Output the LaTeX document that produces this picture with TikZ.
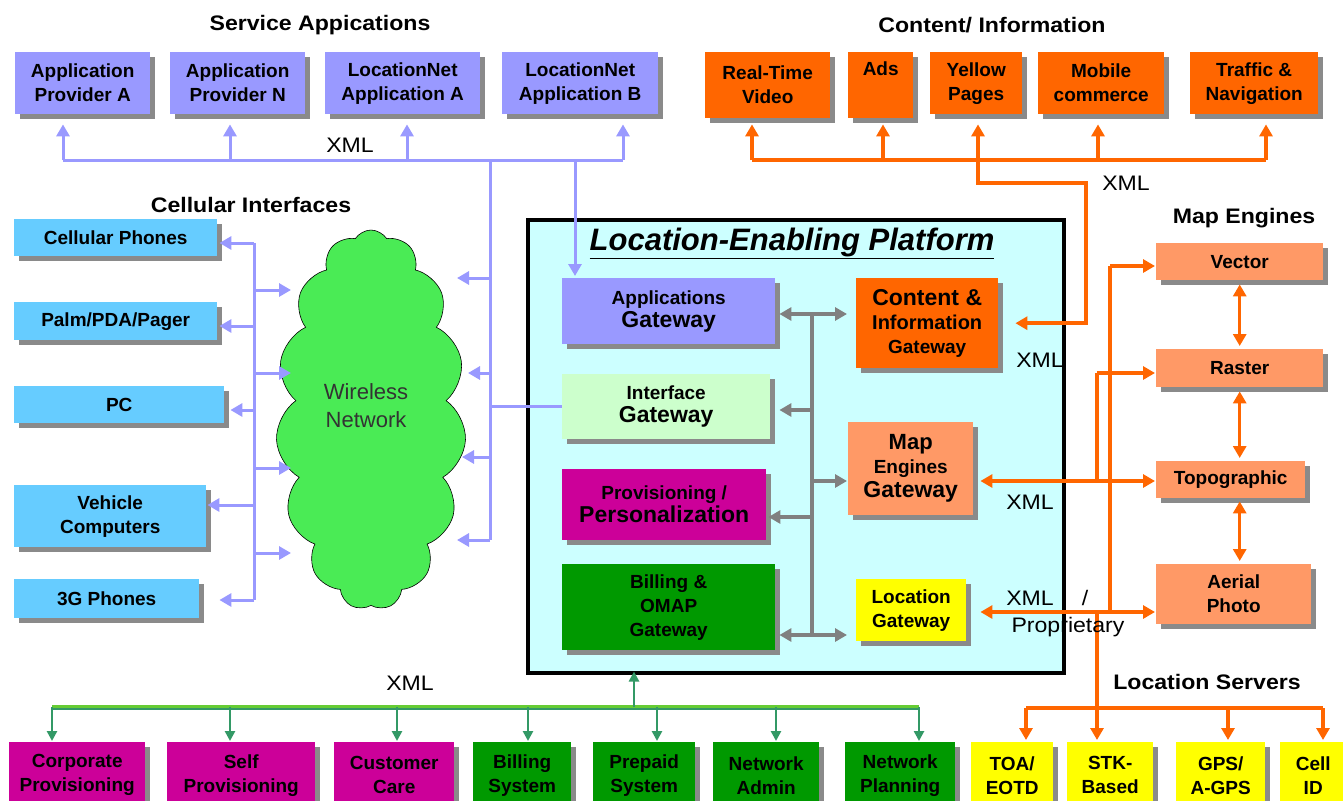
\documentclass[tikz,border=0pt]{standalone}
\usepackage{fontspec}
\setmainfont{Liberation Sans}
\newfontfamily\widefont[FakeStretch=1.1]{Liberation Sans}
\usetikzlibrary{arrows.meta,shapes.symbols,shadows,calc}
\definecolor{lav}{HTML}{9999FF}
\definecolor{skyb}{HTML}{66CCFF}
\definecolor{orng}{HTML}{FF6600}
\definecolor{lorng}{HTML}{FF9966}
\definecolor{yel}{HTML}{FFFF00}
\definecolor{mag}{HTML}{CC0099}
\definecolor{grn}{HTML}{009900}
\definecolor{ifc}{HTML}{CCFFCC}
\definecolor{platc}{HTML}{CCFFFF}
\definecolor{cloudg}{HTML}{4AEB55}
\definecolor{shad}{HTML}{8A8A8A}
\definecolor{gline}{HTML}{808080}
\definecolor{busg}{HTML}{339966}
\definecolor{busl}{HTML}{66CC33}
\begin{document}
\begin{tikzpicture}[x=1pt,y=-1pt,
 box/.style={inner sep=0pt, anchor=north west, align=center, text=black,
   font=\bfseries\fontsize{19}{24}\selectfont,
   general shadow={fill=shad, shadow xshift=5pt, shadow yshift=-5pt}},
 ttl/.style={font=\widefont\bfseries\fontsize{21}{25}\selectfont, inner sep=0pt},
 lbl/.style={font=\widefont\fontsize{21}{25}\selectfont, inner sep=0pt},
 arrowto/.style={-{Triangle[length=12pt,width=13pt]}},
 arrowboth/.style={{Triangle[length=12pt,width=13pt]}-{Triangle[length=12pt,width=13pt]}},
 garrow/.style={-{Triangle[length=10pt,width=10pt]}},
 lavl/.style={draw=lav, line width=3pt},
 orl/.style={draw=orng, line width=3.5pt},
 grl/.style={draw=gline, line width=3.5pt},
 gnl/.style={draw=busg, line width=2.5pt},
]
\clip (0,0) rectangle (1343,800);
\useasboundingbox (0,0) rectangle (1343,800);
\fill[white] (0,0) rectangle (1343,800);

% ---------- titles
\node[ttl] (t1) at (320,25) {Service Appications};
\node[ttl] (t2) at (992,25) {Content/ Information};
\node[ttl] (t3) at (251,205) {Cellular Interfaces};
\node[ttl] (t4) at (1244,218) {Map Engines};
\node[ttl] (t5) at (1207,682) {Location Servers};

% ---------- service applications
\node[box, fill=lav, minimum width=135pt, minimum height=62pt] (apA) at (15,52) {Application\\Provider A};
\node[box, fill=lav, minimum width=135pt, minimum height=62pt] (apN) at (170,52) {Application\\Provider N};
\node[box, fill=lav, minimum width=155pt, minimum height=62pt] (lnA) at (325,52) {LocationNet\\Application A};
\node[box, fill=lav, minimum width=156pt, minimum height=62pt] (lnB) at (502,52) {LocationNet\\Application B};

% ---------- content
\node[box, fill=orng, minimum width=125pt, minimum height=66pt] (rtv) at (705,52) {Real-Time\\Video};
\node[box, fill=orng, minimum width=65pt, minimum height=66pt] (ads) at (848,52) {Ads\\[2pt]\strut};
\node[box, fill=orng, minimum width=92pt, minimum height=62pt] (yp) at (930,52) {Yellow\\Pages};
\node[box, fill=orng, minimum width=126pt, minimum height=62pt] (mc) at (1038,52) {Mobile\\commerce};
\node[box, fill=orng, minimum width=128pt, minimum height=62pt] (tn) at (1190,52) {Traffic \&\\Navigation};

% ---------- cellular interfaces
\node[box, fill=skyb, minimum width=203pt, minimum height=37pt] (cell) at (14,219) {Cellular Phones};
\node[box, fill=skyb, minimum width=203pt, minimum height=38pt] (palm) at (14,302) {Palm/PDA/Pager};
\node[box, fill=skyb, minimum width=210pt, minimum height=37pt] (pc) at (14,386) {PC};
\node[box, fill=skyb, minimum width=192pt, minimum height=62pt] (veh) at (14,485) {Vehicle\\Computers};
\node[box, fill=skyb, minimum width=185pt, minimum height=39pt] (g3) at (14,579) {3G Phones};

% ---------- cloud
\node[cloud, cloud puffs=15, cloud puff arc=115, cloud ignores aspect, draw=black, line width=0.6pt,
  fill=cloudg, minimum width=190pt, minimum height=380pt, inner sep=0pt] (cloud) at (371,420) {};
\node[align=center, text=black!80, font=\fontsize{22}{28}\selectfont, inner sep=0pt] (wn) at (366,406) {Wireless\\Network};

% ---------- platform
\node[draw=black, line width=3.5pt, fill=platc, minimum width=536pt, minimum height=453pt,
  anchor=north west, inner sep=0pt] (plat) at (526,218) {};
\node[font=\bfseries\itshape\fontsize{31}{36}\selectfont, inner sep=0pt] (ptitle) at (792,243) {\underline{Location-Enabling Platform}};

\node[box, fill=lav, minimum width=213pt, minimum height=66pt] (appgw) at (562,278)
  {Applications\\[-1pt]{\fontsize{23}{27}\selectfont Gateway}};
\node[box, fill=ifc, minimum width=208pt, minimum height=65pt] (ifgw) at (562,374)
  {Interface\\[-1pt]{\fontsize{23}{27}\selectfont Gateway}};
\node[box, fill=mag, minimum width=204pt, minimum height=71pt] (provgw) at (562,469)
  {Provisioning /\\[-1pt]{\fontsize{23}{27}\selectfont Personalization}};
\node[box, fill=grn, minimum width=213pt, minimum height=86pt] (billgw) at (562,564)
  {Billing \&\\OMAP\\Gateway};
\node[box, fill=orng, minimum width=142pt, minimum height=90pt] (contgw) at (856,278)
  {{\fontsize{23}{26}\selectfont Content \&}\\{\fontsize{20}{25}\selectfont Information}\\Gateway};
\node[box, fill=lorng, minimum width=125pt, minimum height=93pt] (mapgw) at (848,422)
  {{\fontsize{22}{26}\selectfont Map}\\Engines\\{\fontsize{23}{26}\selectfont Gateway}};
\node[box, fill=yel, minimum width=110pt, minimum height=62pt] (locgw) at (856,579) {Location\\Gateway};

% ---------- map engines
\node[box, fill=lorng, minimum width=167pt, minimum height=37pt] (vec) at (1156,243) {Vector};
\node[box, fill=lorng, minimum width=167pt, minimum height=38pt] (ras) at (1156,349) {Raster};
\node[box, fill=lorng, minimum width=149pt, minimum height=37pt] (topo) at (1156,461) {Topographic};
\node[box, fill=lorng, minimum width=155pt, minimum height=60pt] (aer) at (1156,564) {Aerial\\Photo};

% ---------- location servers
\node[box, fill=yel, minimum width=82pt, minimum height=66pt] (toa) at (971,742) {TOA/\\EOTD};
\node[box, fill=yel, minimum width=86pt, minimum height=66pt] (stk) at (1067,742) {STK-\\Based};
\node[box, fill=yel, minimum width=89pt, minimum height=66pt] (gps) at (1176,742) {GPS/\\A-GPS};
\node[box, fill=yel, minimum width=66pt, minimum height=66pt] (cid) at (1280,742) {Cell\\ID};

% ---------- bottom row
\node[box, fill=mag, minimum width=136pt, minimum height=66pt] (corp) at (9,742) {Corporate\\Provisioning};
\node[box, fill=mag, minimum width=148pt, minimum height=66pt] (self) at (167,742) {Self\\Provisioning};
\node[box, fill=mag, minimum width=120pt, minimum height=66pt] (cust) at (334,742) {Customer\\Care};
\node[box, fill=grn, minimum width=98pt, minimum height=66pt] (bills) at (473,742) {Billing\\System};
\node[box, fill=grn, minimum width=102pt, minimum height=66pt] (prep) at (593,742) {Prepaid\\System};
\node[box, fill=grn, minimum width=106pt, minimum height=66pt] (nadm) at (713,742) {Network\\Admin};
\node[box, fill=grn, minimum width=110pt, minimum height=66pt] (nplan) at (845,742) {Network\\Planning};

% ---------- lavender connectors (service apps)
\coordinate (sb1) at (63,160); \coordinate (sb2) at (230,160);
\coordinate (sb3) at (407,160); \coordinate (sb4) at (623,160);
\coordinate (sbx) at (490,160); \coordinate (sby) at (575,160);
\draw[lavl] (sb1) -- (sb4);
\foreach \c/\n in {sb1/apA, sb2/apN, sb3/lnA, sb4/lnB}
  \draw[lavl, arrowto, shorten >=10pt] (\c) -- (\c |- \n.south);
\draw[lavl, arrowto, shorten >=2pt] (sby) -- (sby |- appgw.north);
\coordinate (rcb) at (490,540);
\draw[lavl] (sbx) -- (rcb);
\coordinate (rc1) at (490,278); \coordinate (rc2) at (490,373); \coordinate (rc3) at (490,457);
\coordinate (ct1) at (457,278); \coordinate (ct2) at (468,373); \coordinate (ct3) at (462,457); \coordinate (ct4) at (457,540);
\draw[lavl, arrowto] (rc1) -- (ct1);
\draw[lavl, arrowto] (rc2) -- (ct2);
\draw[lavl, arrowto] (rc3) -- (ct3);
\draw[lavl, arrowto] (rcb) -- (ct4);
\draw[lavl] (sbx |- ifgw.west) -- (ifgw.west);

% ---------- lavender connectors (cellular)
\coordinate (lb1) at (254,243); \coordinate (lb2) at (254,326); \coordinate (lb3) at (254,410);
\coordinate (lb4) at (254,505); \coordinate (lb5) at (254,600);
\draw[lavl] (lb1) -- (lb5);
\draw[lavl, arrowto, shorten >=2pt] (lb1) -- (lb1 -| cell.east);
\draw[lavl, arrowto, shorten >=2pt] (lb2) -- (lb2 -| palm.east);
\draw[lavl, arrowto, shorten >=6pt] (lb3) -- (lb3 -| pc.east);
\draw[lavl, arrowto, shorten >=1pt] (lb4) -- (lb4 -| veh.east);
\draw[lavl, arrowto, shorten >=20pt] (lb5) -- (lb5 -| g3.east);
\coordinate (lc1) at (254,290); \coordinate (lc2) at (254,373); \coordinate (lc3) at (254,468); \coordinate (lc4) at (254,553);
\coordinate (cl1) at (291,290); \coordinate (cl2) at (291,373); \coordinate (cl3) at (291,468); \coordinate (cl4) at (291,553);
\draw[lavl, arrowto] (lc1) -- (cl1);
\draw[lavl, arrowto] (lc2) -- (cl2);
\draw[lavl, arrowto] (lc3) -- (cl3);
\draw[lavl, arrowto] (lc4) -- (cl4);

% ---------- gray platform connectors
\coordinate (gb1) at (812,314); \coordinate (gb2) at (812,635);
\coordinate (gb3) at (812,410); \coordinate (gb4) at (812,481); \coordinate (gb5) at (812,517);
\draw[grl] (gb1) -- (gb2);
\draw[grl, arrowboth, shorten <=4pt, shorten >=9pt] (gb1 -| appgw.east) -- (gb1 -| contgw.west);
\draw[grl, arrowto, shorten >=9pt] (gb3) -- (gb3 -| ifgw.east);
\draw[grl, arrowto, shorten >=1pt] (gb4) -- (gb4 -| mapgw.west);
\draw[grl, arrowto, shorten >=2pt] (gb5) -- (gb5 -| provgw.east);
\draw[grl, arrowboth, shorten <=4pt, shorten >=9pt] (gb2 -| billgw.east) -- (gb2 -| locgw.west);

% ---------- orange content connectors
\coordinate (ob1) at (752,160); \coordinate (ob2) at (883,160); \coordinate (ob3) at (978,160);
\coordinate (ob4) at (1098,160); \coordinate (ob5) at (1266,160);
\draw[orl] (ob1) -- (ob5);
\draw[orl, arrowto, shorten >=6pt] (ob1) -- (ob1 |- rtv.south);
\draw[orl, arrowto, shorten >=6pt] (ob2) -- (ob2 |- ads.south);
\draw[orl, arrowto, shorten >=10pt] (ob3) -- (ob3 |- yp.south);
\draw[orl, arrowto, shorten >=10pt] (ob4) -- (ob4 |- mc.south);
\draw[orl, arrowto, shorten >=10pt] (ob5) -- (ob5 |- tn.south);
\coordinate (ox) at (1086,183);
\draw[orl, arrowto, shorten >=17pt] (ob3) |- (ox) |- (contgw.east);

% ---------- orange map engine connectors
\coordinate (ma) at (1110,266); \coordinate (mt) at (1110,481); \coordinate (mb) at (1110,612);
\coordinate (mr) at (1097,373); \coordinate (mg) at (1097,481); \coordinate (ml) at (1097,612);
\draw[orl] (ma) -- (mb);
\draw[orl, arrowto, shorten >=1pt] (ma) -- (ma -| vec.west);
\draw[orl, arrowto, shorten >=1pt] (mt) -- (mt -| topo.west);
\draw[orl, arrowto, shorten >=1pt] (mb) -- (mb -| aer.west);
\draw[orl, arrowto, shorten >=1pt] (mr) -- (mr -| ras.west);
\draw[orl] (mr) -- (mg);
\draw[orl, arrowto, shorten >=7pt] (mt) -- (mt -| mapgw.east);
\draw[orl, arrowto, shorten >=14pt] (mb) -- (mb -| locgw.east);
\draw[orl, arrowto, shorten >=2pt] (ml) -- (ml |- stk.north);
\draw[orl, arrowboth, shorten <=4pt, shorten >=3pt] (vec.south) -- (vec.south |- ras.north);
\draw[orl, arrowboth, shorten <=4pt, shorten >=3pt] (ras.south) -- (ras.south |- topo.north);
\draw[orl, arrowboth, shorten <=3pt, shorten >=3pt] (ras.south |- topo.south) -- (ras.south |- aer.north);

% ---------- location servers bus
\coordinate (sv1) at (1026,708); \coordinate (sv3) at (1228,708); \coordinate (sv4) at (1323,708);
\draw[orl] (sv1) -- (sv4);
\draw[orl, arrowto, shorten >=2pt] (sv1) -- (sv1 |- toa.north);
\draw[orl, arrowto, shorten >=2pt] (sv3) -- (sv3 |- gps.north);
\draw[orl, arrowto, shorten >=2pt] (sv4) -- (sv4 |- cid.north);

% ---------- green bottom bus
\coordinate (gl) at (52,707); \coordinate (gr) at (919,707); \coordinate (gu) at (634,707);
\draw[draw=busl, line width=5pt] (gl) -- (gr);
\draw[draw=busg, line width=2pt] ($(gl)+(0,1.5)$) -- ($(gr)+(0,1.5)$);
\draw[gnl, garrow, shorten >=-3pt] (gu) -- (gu |- plat.south);
\foreach \x/\n in {52/corp, 230/self, 397/cust, 528/bills, 657/prep, 776/nadm, 919/nplan}
  \draw[gnl, garrow, shorten >=1pt] (\x,707) -- (\x,707 |- \n.north);

% ---------- labels
\node[lbl] (x1) at (350,145) {XML};
\node[lbl] (x2) at (1126,183) {XML};
\node[lbl] (x3) at (1040,360) {XML};
\node[lbl] (x4) at (1030,502) {XML};
\node[lbl] (x5) at (1030,598) {XML};
\node[lbl] (x5s) at (1085,598) {/};
\node[lbl] (x6) at (1068,627) {Proprietary};
\node[lbl] (x7) at (410,683) {XML};
\end{tikzpicture}
\end{document}
